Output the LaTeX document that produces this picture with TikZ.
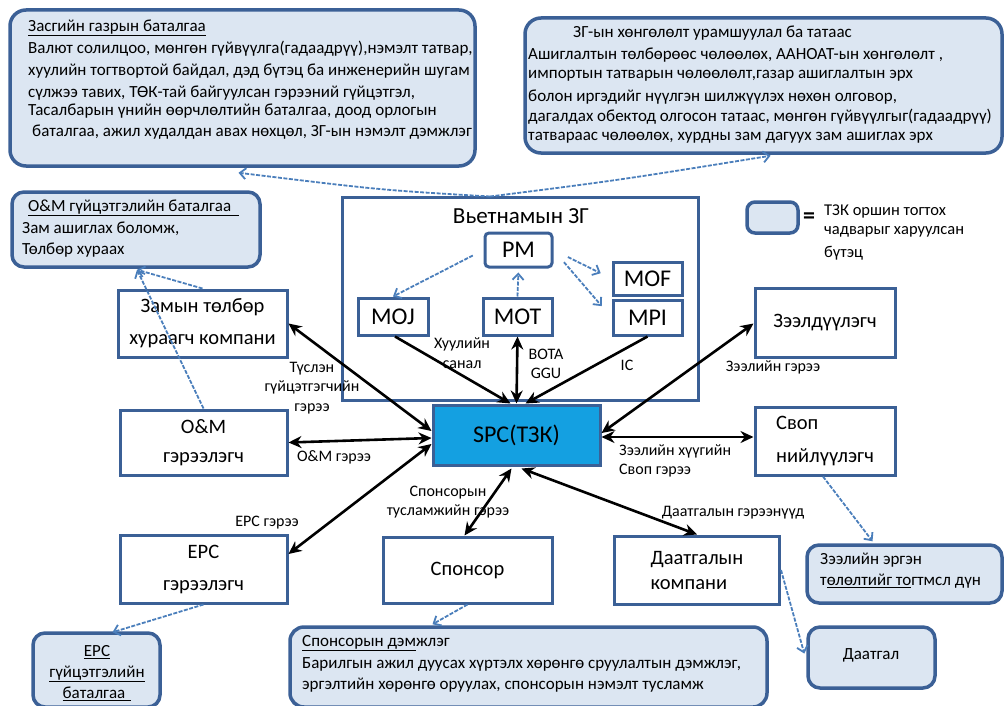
\documentclass[tikz,border=0pt]{standalone}
\usepackage{fontspec}
\setmainfont{Carlito}
\usetikzlibrary{arrows.meta,calc}
\definecolor{bord}{RGB}{59,96,150}
\definecolor{callfill}{RGB}{220,230,242}
\definecolor{dashc}{RGB}{74,126,187}
\definecolor{spcfill}{RGB}{20,160,225}
\tikzset{
  ent/.style={draw=bord, line width=3pt, fill=white, inner sep=0pt, align=center, font=\fontsize{20.5}{32}\selectfont},
  small/.style={draw=bord, line width=3pt, fill=white, inner sep=0pt, font=\fontsize{24}{26}\selectfont},
  callout/.style={draw=bord, line width=3.5pt, fill=callfill, rounded corners=16pt, inner sep=0pt},
  ctext/.style={anchor=west, inner sep=0pt, font=\fontsize{17}{21}\selectfont},
  lbl/.style={inner sep=0pt, align=center, font=\fontsize{16}{19.5}\selectfont},
  biarr/.style={line width=2.6pt, black, {Stealth[length=13pt,width=12pt]}-{Stealth[length=13pt,width=12pt]}},
  onearr/.style={line width=2.6pt, black, -{Stealth[length=13pt,width=12pt]}},
  dasharr/.style={draw=dashc, line width=1.8pt, dash pattern=on 4pt off 1.5pt, -{Straight Barb[length=6pt,width=11pt]}}
}
\begin{document}
\begin{tikzpicture}[x=1pt,y=-1pt]
\useasboundingbox (0,0) rectangle (1006,706);
% callouts top
\node[callout, minimum width=465pt, minimum height=156pt] (gov) at (242.5,88) {};
\node[ctext] (gt0) at (28,28) {\underline{Засгийн газрын баталгаа}};
\node[ctext] (gt1) at (28,49) {Валют солилцоо, мөнгөн гүйвүүлга(гадаадрүү),нэмэлт татвар,};
\node[ctext] (gt2) at (28,71) {хуулийн тогтвортой байдал, дэд бүтэц ба инженерийн шугам};
\node[ctext] (gt3) at (28,93) {сүлжээ тавих, ТӨК-тай байгуулсан гэрээний гүйцэтгэл,};
\node[ctext] (gt4) at (28,111) {Тасалбарын үнийн өөрчлөлтийн баталгаа, доод орлогын};
\node[ctext] (gt5) at (32,132) {баталгаа, ажил худалдан авах нөхцөл, ЗГ-ын нэмэлт дэмжлэг};

\node[callout, minimum width=477pt, minimum height=135pt] (inc) at (763.5,85.5) {};
\node[ctext] (it0) at (573,33) {ЗГ-ын хөнгөлөлт урамшуулал ба татаас};
\node[ctext] (it1) at (528,55) {Ашиглалтын төлбөрөөс чөлөөлөх, ААНОАТ-ын хөнгөлөлт ,};
\node[ctext] (it2) at (528,76) {импортын татварын  чөлөөлөлт,газар ашиглалтын эрх};
\node[ctext] (it3) at (528,97) {болон иргэдийг нүүлгэн шилжүүлэх нөхөн олговор,};
\node[ctext] (it4) at (528,117) {дагалдах обектод олгосон  татаас, мөнгөн гүйвүүлгыг(гадаадрүү)};
\node[ctext] (it5) at (528,138) {татвараас  чөлөөлөх, хурдны зам дагуух зам ашиглах эрх};

% legend
\node[callout, rounded corners=8pt, minimum width=51pt, minimum height=31pt] (leg) at (772.5,217.5) {};
\node[inner sep=0pt, font=\fontsize{24}{24}\selectfont\bfseries] (eq) at (809,218) {=};
\node[ctext, font=\fontsize{16.5}{20}\selectfont] (lg1) at (824,211) {ТЗК оршин тогтох};
\node[ctext, font=\fontsize{16.5}{20}\selectfont] (lg2) at (824,232) {чадварыг харуулсан};
\node[ctext, font=\fontsize{16.5}{20}\selectfont] (lg3) at (824,253) {бүтэц};

% Vietnam government
\node[draw=bord, line width=3pt, fill=white, minimum width=356pt, minimum height=203pt, inner sep=0pt] (vn) at (520,298.5) {};
\node[inner sep=0pt, font=\fontsize{23}{26}\selectfont] (vnt) at (521,216) {Вьетнамын ЗГ};
\node[small, minimum width=67pt, minimum height=34pt, rounded corners=4pt] (pm) at (518.5,250) {PM};
\node[small, minimum width=70pt, minimum height=37pt] (moj) at (393,316.5) {MOJ};
\node[small, minimum width=69pt, minimum height=37pt] (mot) at (517.5,316.5) {MOT};
\node[small, minimum width=69pt, minimum height=33pt] (mof) at (647.5,278.5) {MOF};
\node[small, minimum width=69pt, minimum height=35pt] (mpi) at (647.5,317.5) {MPI};

% SPC
\node[draw=bord, line width=3pt, fill=spcfill, minimum width=167pt, minimum height=60pt, inner sep=0pt, font=\fontsize{24}{26}\selectfont] (spc) at (516.5,435) {SPC(ТЗК)};

% entities
\node[ent, minimum width=169pt, minimum height=67pt] (toll) at (202.5,323.5) {Замын төлбөр\\хураагч компани};
\node[ent, minimum width=167pt, minimum height=65pt, font=\fontsize{20.5}{29}\selectfont] (om) at (203.5,442.5) {O\&M\\гэрээлэгч};
\node[ent, minimum width=167pt, minimum height=68pt, font=\fontsize{20.5}{32}\selectfont] (epc) at (203.5,569) {EPC\\гэрээлэгч};
\node[ent, minimum width=140pt, minimum height=69pt] (lend) at (825,322.5) {Зээлдүүлэгч};
\node[ent, minimum width=140pt, minimum height=68pt, align=left, font=\fontsize{20.5}{33}\selectfont] (swap) at (825,441) {Своп\\нийлүүлэгч};
\node[ent, minimum width=169pt, minimum height=66pt] (spon) at (467.5,570) {Спонсор};
\node[ent, minimum width=165pt, minimum height=68pt, align=left, font=\fontsize{20.5}{25}\selectfont] (ins) at (697,570) {Даатгалын\\компани};

% bottom / side callouts
\node[callout, rounded corners=12pt, minimum width=248pt, minimum height=75pt] (omg) at (136,229.5) {};
\node[ctext] (ot0) at (28,208) {\underline{O\&M гүйцэтгэлийн баталгаа\hspace{8pt}}};
\node[ctext] (ot1) at (22,229) {Зам ашиглах боломж,};
\node[ctext] (ot2) at (22,250) {Төлбөр хураах};

\node[callout, rounded corners=12pt, minimum width=127pt, minimum height=74pt] (epcg) at (96.5,670) {};
\node[lbl, font=\fontsize{17}{21}\selectfont] (et) at (97,673) {\underline{EPC}\\\underline{гүйцэтгэлийн}\\\underline{баталгаа\hspace{6pt}}};

\node[callout, rounded corners=14pt, minimum width=477pt, minimum height=80pt] (spg) at (528.5,667) {};
\node[ctext] (st0) at (302,643) {\underline{Спонсорын дэм}жлэг};
\node[ctext] (st1) at (302,664) {Барилгын ажил дуусах хүртэлх хөрөнгө сруулалтын дэмжлэг,};
\node[ctext] (st2) at (302,685) {эргэлтийн хөрөнгө оруулах, спонсорын нэмэлт тусламж};

\node[callout, rounded corners=12pt, minimum width=195pt, minimum height=58pt] (loanr) at (904.5,574) {};
\node[ctext] (lt0) at (820,560) {Зээлийн эргэн};
\node[ctext] (lt1) at (820,581) {т\underline{өлөлтийг то}гтмсл дүн};

\node[callout, rounded corners=12pt, minimum width=127pt, minimum height=61pt] (insg) at (871.5,657.5) {};
\node[inner sep=0pt, font=\fontsize{17}{20}\selectfont] (igt) at (871,655) {Даатгал};

% dashed arrows in government
\draw[dasharr, shorten <=12pt] (pm.west) -- (moj.north);
\draw[dasharr, shorten >=4pt] (mot.north) -- (pm.south);
\draw[dasharr, shorten <=16pt, shorten >=12pt] (pm.east) -- (mof.west);
\draw[dasharr, shorten <=16pt, shorten >=15pt] (pm.east) -- (mpi.west);

% dashed arrows to callouts
\coordinate (vtop) at ($(vn.north)+(-30,1)$);
\draw[dasharr] (vtop) .. controls (380,190) .. ($(gov.south)+(-4,5)$);
\draw[dasharr] (vtop) .. controls (620,180) .. ($(inc.south)+(7,1)$);
\coordinate (omgin) at ($(omg.south)+(1,1)$);
\draw[dasharr] (toll.north) -- (omgin);
\draw[dasharr] (om.north) -- (omgin);
\draw[dasharr] (epc.south) -- ($(epcg.north)+(16,1)$);
\draw[dasharr] (spon.south) -- ($(spg.north)+(-96,-1)$);
\draw[dasharr] ($(swap.south)+(-2,0)$) -- ($(loanr.north)+(-32,-2)$);
\draw[dasharr] (ins.east) -- ($(insg.west)+(-2,-4)$);

% black connectors
\draw[onearr] ($(moj.south)+(2,0)$) -- ($(spc.north)+(-6,0)$);
\draw[onearr] (mpi.south) -- ($(spc.north)+(9,0)$);
\draw[biarr] (mot.south) -- (spc.north);
\draw[biarr] ($(spc.west)+(0,-4)$) -- (toll.east);
\draw[biarr] ($(spc.west)+(0,3)$) -- (om.east);
\draw[biarr] ($(spc.west)+(0,9)$) -- ($(epc.east)+(0,-15)$);
\draw[biarr] ($(spc.east)+(0,-2)$) -- ($(lend.west)+(0,1)$);
\draw[biarr] ($(spc.east)+(0,2)$) -- ($(swap.west)+(0,-4)$);
\draw[biarr] ($(spc.south)+(-5,2)$) -- ($(spon.north)+(-3,0)$);
\draw[biarr] ($(spc.south)+(5,2)$) -- (ins.north);

% labels
\node[lbl] (l1) at (312,388) {Түслэн\\гүйцэтгэгчийн\\гэрээ};
\node[lbl] (l2) at (334,457) {O\&M гэрээ};
\node[lbl] (l3) at (267,523) {EPC гэрээ};
\node[lbl] (l4) at (462,353) {Хуулийн\\санал};
\node[lbl] (l5) at (546,364) {BOTA\\GGU};
\node[lbl] (l6) at (627,365) {IC};
\node[lbl] (l7) at (773,367) {Зээлийн гэрээ};
\node[lbl, align=left, anchor=west] (l8) at (619,461) {Зээлийн хүүгийн\\Своп гэрээ};
\node[lbl] (l9) at (448,502) {Спонсорын\\тусламжийн гэрээ};
\node[lbl] (l10) at (733,513) {Даатгалын гэрээнүүд};
\end{tikzpicture}
\end{document}
